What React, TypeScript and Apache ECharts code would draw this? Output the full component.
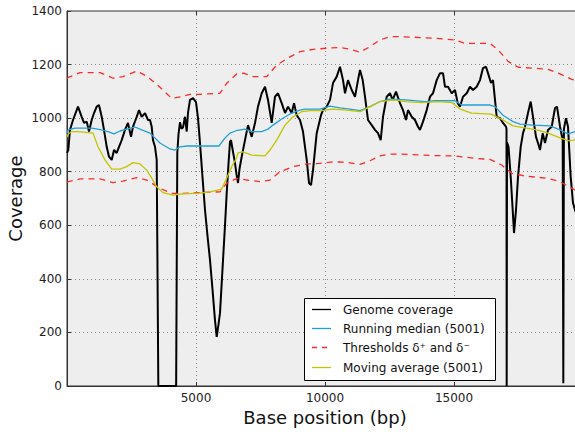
import React, { useEffect, useRef } from "react";
import * as echarts from "echarts";

// [base position, coverage]
const genomeCoverage: [number, number][] = [
  [0, 870], [50, 881], [116, 956], [233, 993], [376, 1030], [426, 1043], [570, 1005], [659, 982],
  [764, 987], [853, 950], [957, 993], [1047, 1019], [1151, 1043], [1240, 1049], [1345, 1005],
  [1434, 956], [1539, 893], [1628, 856], [1733, 844], [1822, 881], [1926, 870], [2016, 893],
  [2120, 918], [2248, 956], [2364, 982], [2481, 930], [2558, 968], [2702, 1005], [2791, 1030],
  [2895, 1005], [3023, 1019], [3140, 993], [3217, 993], [3283, 968], [3333, 918], [3411, 893],
  [3477, 844], [3540, 0], [4230, 0], [4275, 870], [4322, 940], [4380, 985], [4438, 960],
  [4496, 965], [4574, 1005], [4640, 950], [4690, 1020], [4767, 1068], [4884, 1075], [5000, 1060],
  [5078, 1000], [5155, 907], [5252, 780], [5349, 657], [5446, 560], [5543, 470], [5640, 360],
  [5736, 246], [5802, 183], [5872, 230], [5930, 272], [6047, 470], [6124, 600], [6190, 720],
  [6260, 830], [6318, 912], [6357, 918], [6422, 881], [6512, 832], [6570, 790], [6628, 758],
  [6686, 810], [6771, 856], [6899, 918], [7016, 974], [7093, 950], [7159, 930], [7287, 982],
  [7403, 1043], [7547, 1093], [7675, 1117], [7791, 1068], [7934, 982], [8062, 1080], [8178, 1093],
  [8322, 1056], [8450, 1019], [8566, 1043], [8709, 1019], [8799, 1056], [8903, 1011], [9031, 993],
  [9147, 950], [9291, 844], [9380, 758], [9458, 750], [9535, 806], [9678, 944], [9845, 1011],
  [9922, 1030], [10066, 1043], [10194, 1068], [10310, 1131], [10454, 1155], [10581, 1192],
  [10698, 1142], [10775, 1093], [10892, 1142], [11035, 1105], [11163, 1080], [11279, 1142],
  [11357, 1180], [11461, 1142], [11550, 1080], [11667, 993], [11810, 974], [11938, 956],
  [12054, 944], [12159, 918], [12248, 1005], [12392, 1080], [12519, 1093], [12624, 1068],
  [12752, 1099], [12907, 1056], [13023, 1030], [13140, 993], [13217, 1030], [13361, 1005],
  [13488, 993], [13605, 968], [13682, 956], [13799, 987], [13942, 1030], [14070, 1080],
  [14186, 1093], [14330, 1142], [14458, 1168], [14574, 1168], [14651, 1117], [14768, 1117],
  [14911, 1093], [15039, 1105], [15144, 1056], [15233, 1043], [15349, 1080], [15493, 1093],
  [15620, 1117], [15737, 1105], [15880, 1117], [16008, 1142], [16124, 1187], [16240, 1192],
  [16318, 1168], [16434, 1131], [16512, 1142], [16589, 1068], [16655, 1005], [16783, 1000],
  [16899, 982], [17016, 968], [17035, 960], [17042, 0], [17055, 910], [17113, 893], [17198, 781],
  [17275, 657], [17326, 571], [17403, 657], [17481, 781], [17585, 893], [17675, 944], [17752, 968],
  [17868, 1019], [17973, 1062], [18062, 1005], [18178, 930], [18256, 907], [18333, 881],
  [18438, 944], [18527, 907], [18644, 956], [18787, 968], [18915, 1038], [18992, 1043],
  [19109, 968], [19213, 918], [19237, 10], [19260, 960], [19341, 1000], [19419, 968],
  [19523, 781], [19613, 683], [19690, 657], [19760, 640],
];

const runningMedian: [number, number][] = [
  [0, 945], [50, 956], [310, 963], [957, 963], [1345, 956], [1589, 950], [1822, 941], [2054, 952],
  [2314, 959], [2636, 967], [2895, 956], [3217, 944], [3605, 907], [3992, 885], [4186, 881],
  [4380, 893], [4640, 896], [5027, 896], [5892, 896], [6124, 926], [6318, 944], [6550, 953],
  [6899, 959], [7159, 950], [7547, 950], [7791, 959], [7985, 974], [8322, 997], [8709, 1019],
  [9031, 1030], [9225, 1034], [9806, 1034], [10194, 1045], [10581, 1038], [10969, 1034],
  [11357, 1028], [11744, 1043], [12132, 1062], [12519, 1071], [13140, 1068], [13876, 1062],
  [14264, 1065], [15039, 1065], [15298, 1049], [16395, 1049], [16589, 1043], [16899, 1011],
  [17287, 987], [17558, 978], [18062, 974], [18721, 971], [19109, 956], [19419, 941], [19690, 950],
  [19760, 948],
];

const upperThreshold: [number, number][] = [
  [0, 1148], [50, 1152], [504, 1170], [1279, 1170], [1783, 1149], [2171, 1155], [2702, 1176],
  [3089, 1157], [3605, 1115], [4058, 1074], [4446, 1080], [4767, 1089], [5155, 1089], [5930, 1093],
  [6190, 1130], [6578, 1165], [6833, 1168], [7221, 1155], [7740, 1155], [8128, 1198], [8643, 1229],
  [9031, 1248], [9547, 1257], [10066, 1261], [10581, 1264], [10969, 1257], [11357, 1246],
  [11744, 1267], [12132, 1292], [12519, 1304], [12907, 1304], [13488, 1302], [14264, 1298],
  [15039, 1292], [15427, 1279], [16395, 1279], [16717, 1254], [17105, 1211], [17493, 1190],
  [18140, 1186], [18655, 1182], [19109, 1165], [19562, 1145], [19690, 1142], [19760, 1140],
];

const lowerThreshold: [number, number][] = [
  [0, 760], [50, 763], [504, 773], [1279, 773], [1783, 759], [2171, 765], [2702, 778], [3089, 769],
  [3605, 738], [4058, 719], [4508, 719], [5155, 722], [5930, 725], [6190, 757], [6578, 775],
  [6965, 769], [7481, 763], [7868, 769], [8256, 800], [8771, 819], [9291, 829], [9806, 831],
  [10322, 837], [10841, 835], [11357, 827], [11744, 841], [12132, 859], [12519, 866], [12907, 866],
  [14264, 860], [15039, 859], [15814, 850], [16395, 846], [16849, 825], [17236, 794], [17752, 784],
  [18655, 775], [19109, 763], [19562, 738], [19690, 732], [19760, 728],
];

const movingAverage: [number, number][] = [
  [0, 930], [50, 941], [182, 950], [426, 950], [1008, 944], [1202, 893], [1473, 844], [1733, 810],
  [2054, 810], [2314, 819], [2558, 834], [2829, 829], [3089, 806], [3256, 781], [3477, 744],
  [3721, 722], [4109, 713], [4496, 717], [5155, 720], [5543, 725], [5996, 735], [6190, 776],
  [6384, 819], [6550, 847], [6628, 870], [6822, 874], [7159, 862], [7675, 859], [7868, 881],
  [8128, 918], [8450, 974], [8760, 1005], [9097, 1024], [9419, 1028], [9845, 1028], [10310, 1034],
  [10841, 1030], [11357, 1024], [11744, 1043], [12132, 1062], [12636, 1068], [13140, 1062],
  [13748, 1058], [14380, 1062], [14911, 1058], [15233, 1034], [15686, 1019], [16434, 1015],
  [16655, 1005], [16899, 993], [17287, 971], [17818, 963], [18333, 953], [18721, 941], [19109, 926],
  [19419, 916], [19690, 918], [19760, 918],
];

const legendNames = [
  "Genome coverage",
  "Running median (5001)",
  "Thresholds δ⁺ and δ⁻",
  "Moving average (5001)",
];

const FONT = "DejaVu Sans";
const BLACK = "#000000";
const BLUE = "#22a0d6";
const RED = "#ff2a2a";
const YELLOW = "#c4c400";

export default function App() {
  const ref = useRef<HTMLDivElement>(null);
  useEffect(() => {
    const chart = echarts.init(ref.current!, null, { renderer: "svg" });
    const tick = { inside: true, length: 4, lineStyle: { color: "#333" } };
    const split = { show: true, lineStyle: { color: "#888", type: [1, 3], width: 1 } };

    const legendColors = [BLACK, BLUE, RED, YELLOW];
    const legendDash = [null, null, [5, 5], null];
    const rowY = [309.5, 328.5, 347.5, 367.5];
    const legendGraphics: any[] = [
      {
        type: "rect", z: 100, shape: { x: 304.5, y: 298.5, width: 191, height: 82 },
        style: { fill: "#ffffff", stroke: "#000", lineWidth: 1 },
      },
    ];
    legendNames.forEach((name, i) => {
      legendGraphics.push({
        type: "line", z: 101,
        shape: { x1: 312, y1: rowY[i], x2: 331, y2: rowY[i] },
        style: { stroke: legendColors[i], lineWidth: 1.3, lineDash: legendDash[i] || undefined },
      });
      legendGraphics.push({
        type: "text", z: 101, x: 343, y: rowY[i],
        style: {
          text: name, fill: "#111", fontSize: 12, fontFamily: FONT,
          verticalAlign: "middle", align: "left",
        },
      });
    });

    chart.setOption({
      animation: false,
      backgroundColor: "#ffffff",
      grid: {
        left: 67, top: 11, right: -8, bottom: 46,
        outerBoundsMode: "none",
        containLabel: false,
        show: true, backgroundColor: "#eeeeee", borderColor: "#333", borderWidth: 1,
      },
      graphic: legendGraphics,
      xAxis: [
        {
          type: "value", min: 0, max: 20000, interval: 5000, position: "bottom",
          axisLine: { show: true, lineStyle: { color: "#333" } },
          axisTick: tick,
          axisLabel: {
            formatter: (v: number) => (v > 0 && v < 20000 ? String(v) : ""),
            color: "#222", fontSize: 12, fontFamily: FONT, margin: 6,
          },
          splitLine: split,
          name: "Base position (bp)", nameLocation: "middle", nameGap: 22,
          nameMoveOverlap: false,
          nameTextStyle: { fontSize: 18, fontFamily: FONT, color: "#111" },
        },
        {
          type: "value", min: 0, max: 20000, interval: 5000, position: "top",
          axisLine: { show: false }, axisTick: tick, axisLabel: { show: false },
          splitLine: { show: false },
        },
      ],
      yAxis: {
        type: "value", min: 0, max: 1400, interval: 200,
        axisLine: { show: true, lineStyle: { color: "#333" } },
        axisTick: tick,
        axisLabel: {
          formatter: (v: number) => String(v),
          color: "#222", fontSize: 12, fontFamily: FONT, margin: 5,
        },
        splitLine: split,
        name: "Coverage", nameLocation: "middle", nameGap: 43,
        nameMoveOverlap: false,
        nameTextStyle: { fontSize: 18, fontFamily: FONT, color: "#111" },
      },
      series: [
        {
          name: legendNames[0], type: "line", data: genomeCoverage, symbol: "none",
          lineStyle: { color: BLACK, width: 2 }, itemStyle: { color: BLACK },
        },
        {
          name: legendNames[1], type: "line", data: runningMedian, symbol: "none",
          lineStyle: { color: BLUE, width: 1.3 }, itemStyle: { color: BLUE },
        },
        {
          name: legendNames[2], type: "line", data: upperThreshold, symbol: "none",
          lineStyle: { color: RED, width: 1.3, type: [6, 5] }, itemStyle: { color: RED },
        },
        {
          name: legendNames[2], type: "line", data: lowerThreshold, symbol: "none",
          lineStyle: { color: RED, width: 1.3, type: [6, 5] }, itemStyle: { color: RED },
        },
        {
          name: legendNames[3], type: "line", data: movingAverage, symbol: "none",
          lineStyle: { color: YELLOW, width: 1.3 }, itemStyle: { color: YELLOW },
        },
      ],
    });
    return () => chart.dispose();
  }, []);
  return (
    <div
      ref={ref}
      style={{ position: "fixed", left: 0, top: 0, width: 575, height: 432, background: "#fff" }}
    />
  );
}
